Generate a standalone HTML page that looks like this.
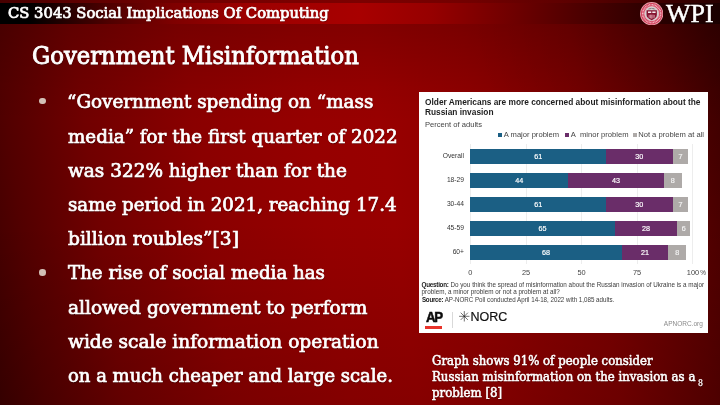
<!DOCTYPE html>
<html lang="en">
<head>
<meta charset="utf-8">
<title>Government Misinformation</title>
<style>
html,body{margin:0;padding:0;}
body{width:720px;height:405px;overflow:hidden;position:relative;
  background:#8a0000;
  font-family:"DejaVu Serif","Liberation Serif",serif;font-stretch:condensed;color:#fff;}
#bg{position:absolute;left:0;top:0;width:720px;height:405px;
  background:linear-gradient(82deg,#3c0000 0%,#520000 6%,#700000 16%,#8a0000 30%,#960000 45%,#980000 54%,#8e0000 66%,#7a0000 80%,#5a0000 92%,#3e0000 100%);}
#shade{position:absolute;left:0;top:0;width:720px;height:405px;background:radial-gradient(circle at 100% 0%,rgba(0,0,0,.2) 0,rgba(0,0,0,.08) 120px,rgba(0,0,0,0) 250px),linear-gradient(180deg,rgba(0,0,0,.19) 0%,rgba(0,0,0,.1) 12%,rgba(0,0,0,.03) 22%,rgba(0,0,0,0) 30%,rgba(0,0,0,0) 55%,rgba(0,0,0,.12) 100%);}
#bar{position:absolute;left:0;top:3px;width:720px;height:20.7px;
  background:linear-gradient(90deg,#000 0%,#000 4%,#240000 9%,#4e0000 15%,#7e0000 24%,#9c0000 34%,#a80000 50%,#960000 60%,#6c0000 72%,#480000 82%,#2a0000 91%,#1a0000 100%);}
.t{position:absolute;white-space:nowrap;transform-origin:0 0;line-height:1;will-change:transform;
  text-shadow:0.5px 0.8px 1px rgba(0,0,0,.45);-webkit-text-stroke:0.7px #fff;}
#hdr{left:7.6px;top:6.01px;font-size:15.2px;transform:scaleX(1.0804);}
#ttl{left:31.7px;top:43.82px;font-size:24.4px;transform:scaleX(1.0371);-webkit-text-stroke:0.85px #fff;}
.b{font-size:19.4px;left:68px;}
.dot{position:absolute;width:6.6px;height:6.6px;border-radius:50%;background:#d2c0b6;left:39.2px;}
.cap{font-size:12.4px;left:431.5px;-webkit-text-stroke:0.5px #fff;}
#wpi{left:665.8px;top:1.5px;font-size:24.7px;transform:scaleX(1.054);-webkit-text-stroke:0.45px #fff;font-family:"Liberation Serif",serif;font-stretch:normal;}
#seal{position:absolute;left:639.8px;top:1.9px;width:23.4px;height:23.4px;}

/* chart */
#chart{position:absolute;left:419px;top:92px;width:289px;height:240.6px;background:#fff;
  font-family:"Liberation Sans",sans-serif;font-stretch:normal;color:#333;will-change:transform;}
#chart div{position:absolute;white-space:nowrap;line-height:1;transform-origin:0 0;}
#chart .ct{font-weight:bold;font-size:8.33px;color:#1e1e1e;left:6px;}
#chart .sub{font-size:7.6px;color:#444;left:6px;top:29.3px;}
#chart .lg{font-size:7.6px;color:#444;top:39.3px;}
#chart .sq{width:3.8px;height:3.8px;top:41.2px;}
#chart .grid{width:0.6px;background:#ededed;top:52px;height:120px;}
#chart .bar{height:14.6px;}
#chart .blue{background:#1b5f84;}
#chart .purp{background:#6a2d69;}
#chart .gray{background:#aeaaa8;}
#chart .cat{font-size:6.7px;color:#333;text-align:right;width:40px;left:5px;}
#chart .v{font-size:7.2px;color:#fff;font-weight:normal;-webkit-text-stroke:0.18px #fff;text-align:center;transform:translateX(-50%);}
#chart .ax{font-size:7.4px;color:#444;top:177px;transform:translateX(-50%);}
#chart .q{font-size:6.32px;color:#3c3c3c;left:2.6px;}
#chart .q b{color:#222;letter-spacing:-0.27px;}
</style>
</head>
<body>
<div id="bg"></div>
<div id="shade"></div>
<div id="bar"></div>
<div class="t" id="hdr">CS 3043 Social Implications Of Computing</div>
<div class="t" id="ttl">Government Misinformation</div>

<svg id="seal" viewBox="-12 -12 24 24">
  <circle r="11.9" fill="#eca4ae"/>
  <circle r="11.0" fill="#cf3c58"/>
  <circle r="9.2" fill="none" stroke="#f2bcc5" stroke-width="1.7" stroke-dasharray="0.9 0.6"/>
  <circle r="7.8" fill="#ea96a5"/>
  <circle r="7.3" fill="#d6cecf"/>
  <path d="M-3.6,-4.6 Q0,-6.4 3.6,-4.6" fill="none" stroke="#8e888a" stroke-width="0.9"/>
  <path d="M-2.2,-5.2 h1.2 M1,-5.2 h1.2" stroke="#6e686a" stroke-width="0.7"/>
  <path d="M-5.3,-3.5 H5.3 V1.2 Q5.3,4.9 0,6.6 Q-5.3,4.9 -5.3,1.2 Z" fill="#84112f"/>
  <rect x="-3.8" y="-2.3" width="3.4" height="1.6" fill="#f7eef0"/>
  <rect x="0.6" y="-2.3" width="3.4" height="1.6" fill="#f7eef0"/>
  <path d="M-2.6,1.2 v3 M-1.3,1 v3.8 M0,1 v4.2 M1.3,1 v3.8 M2.6,1.2 v3" stroke="#e6b0ba" stroke-width="0.8"/>
</svg>
<div class="t" id="wpi">WPI</div>

<div class="dot" style="top:97.8px"></div>
<div class="t b" id="l1" style="top:92.48px;left:66.8px;transform:scaleX(1.0521)">“Government spending on “mass</div>
<div class="t b" id="l2" style="top:126.65px;transform:scaleX(1.0493)">media” for the first quarter of 2022</div>
<div class="t b" id="l3" style="top:160.82px;transform:scaleX(1.0585)">was 322% higher than for the</div>
<div class="t b" id="l4" style="top:194.99px;transform:scaleX(1.0445)">same period in 2021, reaching 17.4</div>
<div class="t b" id="l5" style="top:229.16px;transform:scaleX(1.0651)">billion roubles”[3]</div>
<div class="dot" style="top:269.1px"></div>
<div class="t b" id="l6" style="top:263.33px;transform:scaleX(1.0427)">The rise of social media has</div>
<div class="t b" id="l7" style="top:297.50px;transform:scaleX(1.0661)">allowed government to perform</div>
<div class="t b" id="l8" style="top:331.67px;transform:scaleX(1.0635)">wide scale information operation</div>
<div class="t b" id="l9" style="top:365.84px;transform:scaleX(1.0321)">on a much cheaper and large scale.</div>

<div id="chart">
  <div class="ct" id="ct1" style="top:5.6px">Older Americans are more concerned about misinformation about the</div>
  <div class="ct" id="ct2" style="top:15.6px">Russian invasion</div>
  <div class="sub" id="sub">Percent of adults</div>

  <div class="sq blue" style="left:79px"></div>
  <div class="lg" id="lg1" style="left:84.8px">A major problem</div>
  <div class="sq purp" style="left:146px"></div>
  <div class="lg" id="lg2" style="left:151.7px">A&nbsp; minor problem</div>
  <div class="sq gray" style="left:214.3px"></div>
  <div class="lg" id="lg3" style="left:219.2px">Not a problem at all</div>

  <div class="grid" style="left:51.1px"></div>
  <div class="grid" style="left:106.7px"></div>
  <div class="grid" style="left:162.3px"></div>
  <div class="grid" style="left:217.8px"></div>
  <div class="grid" style="left:273.4px"></div>

  <!-- rows: x0=51.4, 2.223px per unit -->
  <div class="cat" style="top:61.1px">Overall</div>
  <div class="bar blue" style="top:57.0px;left:51.4px;width:135.6px"></div>
  <div class="bar purp" style="top:57.0px;left:187px;width:66.7px"></div>
  <div class="bar gray" style="top:57.0px;left:253.7px;width:15.6px"></div>
  <div class="v" style="top:60.7px;left:119.2px">61</div>
  <div class="v" style="top:60.7px;left:220.3px">30</div>
  <div class="v" style="top:60.7px;left:261.5px;color:#ececec">7</div>

  <div class="cat" style="top:85.2px">18-29</div>
  <div class="bar blue" style="top:81.1px;left:51.4px;width:97.8px"></div>
  <div class="bar purp" style="top:81.1px;left:149.2px;width:95.6px"></div>
  <div class="bar gray" style="top:81.1px;left:244.8px;width:17.8px"></div>
  <div class="v" style="top:84.8px;left:100.3px">44</div>
  <div class="v" style="top:84.8px;left:197px">43</div>
  <div class="v" style="top:84.8px;left:253.7px;color:#ececec">8</div>

  <div class="cat" style="top:109.3px">30-44</div>
  <div class="bar blue" style="top:105.2px;left:51.4px;width:135.6px"></div>
  <div class="bar purp" style="top:105.2px;left:187px;width:66.7px"></div>
  <div class="bar gray" style="top:105.2px;left:253.7px;width:15.6px"></div>
  <div class="v" style="top:108.9px;left:119.2px">61</div>
  <div class="v" style="top:108.9px;left:220.3px">30</div>
  <div class="v" style="top:108.9px;left:261.5px;color:#ececec">7</div>

  <div class="cat" style="top:133.3px">45-59</div>
  <div class="bar blue" style="top:129.2px;left:51.4px;width:144.5px"></div>
  <div class="bar purp" style="top:129.2px;left:195.9px;width:62.2px"></div>
  <div class="bar gray" style="top:129.2px;left:258.1px;width:13.3px"></div>
  <div class="v" style="top:132.9px;left:123.6px">65</div>
  <div class="v" style="top:132.9px;left:227px">28</div>
  <div class="v" style="top:132.9px;left:264.8px;color:#ececec">6</div>

  <div class="cat" style="top:157.4px">60+</div>
  <div class="bar blue" style="top:153.3px;left:51.4px;width:151.2px"></div>
  <div class="bar purp" style="top:153.3px;left:202.6px;width:46.7px"></div>
  <div class="bar gray" style="top:153.3px;left:249.3px;width:17.8px"></div>
  <div class="v" style="top:157.0px;left:127px">68</div>
  <div class="v" style="top:157.0px;left:225.9px">21</div>
  <div class="v" style="top:157.0px;left:258.2px;color:#ececec">8</div>

  <div class="ax" style="left:51.4px">0</div>
  <div class="ax" style="left:107px">25</div>
  <div class="ax" style="left:162.6px">50</div>
  <div class="ax" style="left:218.1px">75</div>
  <div class="ax" style="left:274px">100<span style="position:absolute;left:100%;margin-left:1.2px;top:0.6px;font-size:6.4px">%</span></div>

  <div class="q" id="q1" style="top:190px"><b>Question:</b> Do you think the spread of misinformation about the Russian invasion of Ukraine is a major</div>
  <div class="q" id="q2" style="top:197.3px">problem, a minor problem or not a problem at all?</div>
  <div class="q" id="q3" style="top:204.6px;transform:scaleX(0.983)"><b>Source:</b> AP-NORC Poll conducted April 14-18, 2022 with 1,085 adults.</div>

  <div id="ap" style="left:6.8px;top:217.9px;font-weight:bold;font-size:14px;color:#0c0c0c;letter-spacing:-1.3px;-webkit-text-stroke:0.5px #0c0c0c;transform:scaleX(0.95);">AP</div>
  <div style="left:6px;top:234px;width:17.3px;height:2.7px;background:#e8332a"></div>
  <div style="left:32.6px;top:219.5px;width:0.7px;height:16px;background:#d9d9d9"></div>
  <svg id="ast" style="position:absolute;left:40.1px;top:219.1px;width:10.6px;height:10.6px" viewBox="-5.3 -5.3 10.6 10.6"><g stroke="#1a1a1a" stroke-width="0.62" stroke-linecap="butt"><line x1="-5.2" y1="0" x2="5.2" y2="0"/><line x1="0" y1="-5.2" x2="0" y2="5.2"/><line x1="-3.6" y1="-3.6" x2="3.6" y2="3.6"/><line x1="-3.6" y1="3.6" x2="3.6" y2="-3.6"/></g></svg>
  <div id="norc" style="left:51.4px;top:219.2px;font-size:12.5px;color:#111;-webkit-text-stroke:0.2px #111;">NORC</div>
  <div id="apn" style="left:244.8px;top:229.2px;font-size:6.5px;color:#8a8a8a;">APNORC.org</div>
</div>

<div class="t cap" id="c1" style="top:355.34px;transform:scaleX(1.0528)">Graph shows 91% of people consider</div>
<div class="t cap" id="c2" style="top:371.14px;transform:scaleX(1.0555)">Russian misinformation on the invasion as a</div>
<div class="t cap" id="c3" style="top:387.44px;transform:scaleX(1.0569)">problem [8]</div>
<div class="t" id="pn" style="left:697.8px;top:379.2px;font-size:8.6px;-webkit-text-stroke:0.25px #fff">8</div>
</body>
</html>
